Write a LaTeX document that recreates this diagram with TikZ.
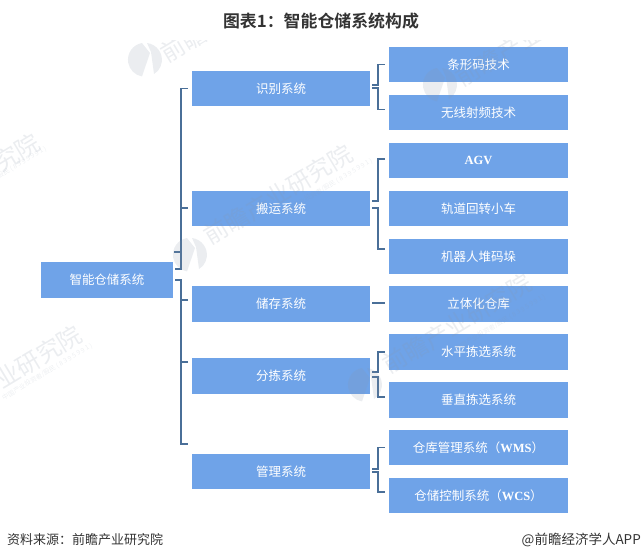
\documentclass[tikz,border=0pt]{standalone}
\usepackage{fontspec}
\setmainfont{Liberation Serif}
\newfontfamily\cjk{Noto Sans CJK SC}
\newfontfamily\cjkbold{Noto Sans CJK SC Bold}
\definecolor{boxblue}{HTML}{6FA3E8}
\definecolor{linkblue}{HTML}{4A6F98}
\definecolor{wmgray}{HTML}{8A97A8}
\definecolor{inkgray}{HTML}{333333}
\tikzset{
  sysbox/.style={fill=boxblue, text=white, minimum height=35.5pt, inner sep=0pt, font=\fontsize{12.5}{14}\cjk},
  rootbox/.style={sysbox, minimum width=132pt},
  midbox/.style={sysbox, minimum width=178pt},
  leafbox/.style={sysbox, minimum width=179pt},
  bracket/.style={linkblue, line width=1.8pt},
  wmtext/.style={text=wmgray, text opacity=0.17, rotate=31, inner sep=0pt, font=\fontsize{24}{26}\cjk},
  wmsub/.style={text=wmgray, text opacity=0.15, rotate=31, inner sep=0pt, font=\fontsize{6.5}{8}\cjk},
  wmlogo/.pic={
    \fill[wmgray, opacity=0.17] (-3,-17) arc[start angle=260, end angle=100, radius=17] -- (5,-7) -- cycle;
    \fill[wmgray, opacity=0.17] (2,-17) arc[start angle=277, end angle=400, radius=17] -- (9,14) -- (6,-8) -- cycle;
  }
}
\begin{document}
\begin{tikzpicture}[x=1pt,y=-1pt]
\useasboundingbox (0,0) rectangle (641,560);

% Title and footer
\node[text=inkgray] (title) at (321,21) {\fontsize{16.9}{19}\cjkbold 图表1：智能仓储系统构成};
\node[anchor=west, inner sep=0pt, text=inkgray] (source) at (7,540) {\fontsize{13}{15}\cjk 资料来源：前瞻产业研究院};
\node[anchor=east, inner sep=0pt, text=inkgray] (brand) at (641,540) {\fontsize{13.5}{15}\cjk @前瞻经济学人APP};

% Root and second level
\node[rootbox] (cangchu) at (107,280) {智能仓储系统};
\node[midbox] (shibie) at (281,88.5) {识别系统};
\node[midbox] (banyun) at (281,208.5) {搬运系统};
\node[midbox] (chucun) at (281,304) {储存系统};
\node[midbox] (fenjian) at (281,376) {分拣系统};
\node[midbox] (guanli) at (281,471.5) {管理系统};

% Third level
\node[leafbox] (tiaoxing) at (478.5,64.5) {条形码技术};
\node[leafbox] (wuxian) at (478.5,112.5) {无线射频技术};
\node[leafbox] (agv) at (478.5,160.5) {\rmfamily\bfseries AGV};
\node[leafbox] (guidao) at (478.5,208.5) {轨道回转小车};
\node[leafbox] (jiqi) at (478.5,256.5) {机器人堆码垛};
\node[leafbox] (liti) at (478.5,304) {立体化仓库};
\node[leafbox] (shuiping) at (478.5,352) {水平拣选系统};
\node[leafbox] (chuizhi) at (478.5,400) {垂直拣选系统};
\node[leafbox] (wms) at (478.5,447.5) {仓库管理系统（{\rmfamily\bfseries WMS}）};
\node[leafbox] (wcs) at (478.5,495.5) {仓储控制系统（{\rmfamily\bfseries WCS}）};

% Brackets from the root
\coordinate (upperstub) at (174,252);
\coordinate (lowertick) at (188,300);
\coordinate (fenjiantick) at (188,362);
\coordinate (lowerend) at (188,444);
\draw[bracket] ([xshift=2pt,yshift=11pt]cangchu.east) -- ++(6,0) |- ([xshift=-4pt]shibie.west);
\draw[bracket] ([xshift=-11pt,yshift=0.5pt]banyun.west) -- ([xshift=-4pt,yshift=0.5pt]banyun.west);
\draw[bracket] (upperstub) -- ++(7,0);
\draw[bracket] ([xshift=2pt]cangchu.east) -- ++(6,0) |- (lowerend);
\draw[bracket] (lowertick) -- ++(-7,0);
\draw[bracket] (fenjiantick) -- ++(-7,0);

% Brackets to the third level
\draw[bracket] ([xshift=2pt,yshift=3.5pt]shibie.east) -- ++(5.5,0) |- ([xshift=-4pt]tiaoxing.west);
\draw[bracket] ([xshift=2pt,yshift=0.5pt]shibie.east) -- ++(5.5,0) |- ([xshift=-4pt,yshift=3pt]wuxian.west);
\draw[bracket] ([xshift=2pt,yshift=7.5pt]banyun.east) -- ++(5.5,0) |- ([xshift=-4pt,yshift=1.5pt]agv.west);
\draw[bracket] ([xshift=2pt,yshift=0.5pt]banyun.east) -- ++(5.5,0) |- ([xshift=-4pt,yshift=7.5pt]jiqi.west);
\draw[bracket] ([xshift=2pt,yshift=1pt]chucun.east) -- ([xshift=-4pt,yshift=1pt]liti.west);
\draw[bracket] ([xshift=2pt,yshift=4pt]fenjian.east) -- ++(5.5,0) |- ([xshift=-4pt]shuiping.west);
\draw[bracket] ([xshift=2pt,yshift=-1pt]fenjian.east) -- ++(5.5,0) |- ([xshift=-4pt,yshift=3pt]chuizhi.west);
\draw[bracket] ([xshift=2pt,yshift=2.5pt]guanli.east) -- ++(5.5,0) |- ([xshift=-4pt]wms.west);
\draw[bracket] ([xshift=2pt,yshift=-0.5pt]guanli.east) -- ++(5.5,0) |- ([xshift=-4pt,yshift=3.5pt]wcs.west);

% Watermarks
\begin{scope}
\clip (0,40) rectangle (641,560);
\pic at (145,60) {wmlogo};
\pic at (190,255) {wmlogo};
\pic at (365,385) {wmlogo};
\pic at (440,85) {wmlogo};
\node[wmtext, anchor=west] (wma) at (206,238) {前瞻产业研究院};
\node[wmtext, anchor=west] (wmb) at (385,367) {前瞻产业研究院};
\node[wmtext, anchor=east] (wmc) at (80,332) {前瞻产业研究院};
\node[wmtext, anchor=east] (wmd) at (38,140) {前瞻产业研究院};
\node[wmtext, anchor=west] (wme) at (163,56) {前瞻产业研究院};
\node[wmtext, anchor=west] (wmf) at (458,80) {前瞻产业研究院};
\node[wmsub, anchor=east] (suba) at (372,160) {中国产业投资者/股民 ( 8 3 9 5 9 9 1 )};
\node[wmsub, anchor=east] (subb) at (545,296) {中国产业投资者/股民 ( 8 3 9 5 9 9 1 )};
\node[wmsub, anchor=east] (subc) at (92,345) {中国产业投资者/股民 ( 8 3 9 5 9 9 1 )};
\node[wmsub, anchor=east] (subd) at (46,148) {中国产业投资者/股民 ( 8 3 9 5 9 9 1 )};
\end{scope}
\end{tikzpicture}
\end{document}
